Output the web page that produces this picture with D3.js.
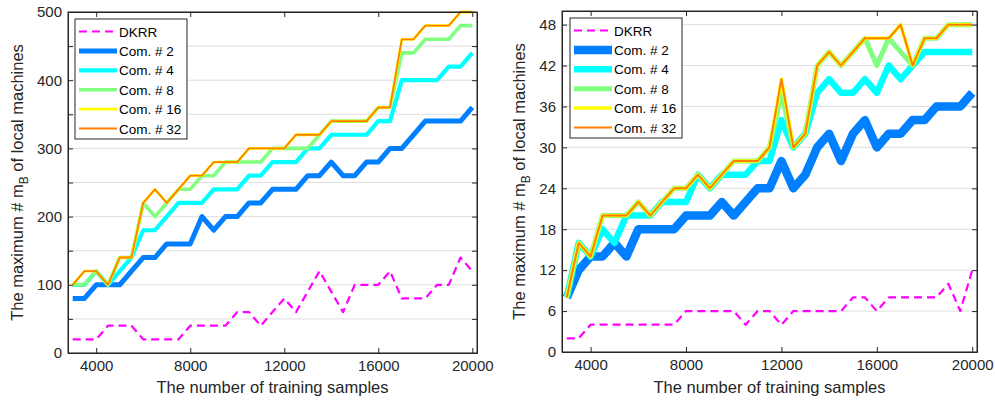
<!DOCTYPE html>
<html>
<head>
<meta charset="utf-8">
<script src="https://cdn.jsdelivr.net/npm/d3@7"></script>
<style>
  body { margin: 0; background: #fff; }
  svg { display: block; font-family: "Liberation Sans", Arial, sans-serif; }
</style>
</head>
<body>
<div id="chart"></div>
<script>
// training sample counts (x categories)
const samples = [3000, 3500, 4000, 4500, 5000, 5500, 6000, 6500, 7000, 7500,
  8000, 8500, 9000, 9500, 10000, 10500, 11000, 11500, 12000, 12500,
  13000, 13500, 14000, 14500, 15000, 15500, 16000, 16500, 17000, 17500,
  18000, 18500, 19000, 19500, 20000];

const seriesNames = ['DKRR', 'Com. # 2', 'Com. # 4', 'Com. # 8', 'Com. # 16', 'Com. # 32'];
const seriesColors = ['#ff00ff', '#0080ff', '#00ffff', '#80ff80', '#ffff00', '#ff8000'];

// left panel
const dkrrA = [20, 20, 20, 40, 40, 40, 20, 20, 20, 20, 40, 40, 40, 40, 60, 60, 40, 60, 80, 60,
  90, 120, 90, 60, 100, 100, 100, 120, 80, 80, 80, 100, 100, 140, 120];
const com2A = [80, 80, 100, 100, 100, 120, 140, 140, 160, 160, 160, 200, 180, 200, 200, 220, 220, 240, 240, 240,
  260, 260, 280, 260, 260, 280, 280, 300, 300, 320, 340, 340, 340, 340, 360];
const com4A = [100, 100, 120, 100, 120, 140, 180, 180, 200, 220, 220, 220, 240, 240, 240, 260, 260, 280, 280, 280,
  300, 300, 320, 320, 320, 320, 340, 340, 400, 400, 400, 400, 420, 420, 440];
const com8A = [100, 100, 120, 100, 140, 140, 220, 200, 220, 240, 240, 260, 260, 280, 280, 280, 280, 300, 300, 300,
  300, 320, 340, 340, 340, 340, 360, 360, 440, 440, 460, 460, 460, 480, 480];
const com16A = [100, 120, 120, 100, 140, 140, 220, 240, 220, 240, 260, 260, 280, 280, 280, 300, 300, 300, 300, 320,
  320, 320, 340, 340, 340, 340, 360, 360, 460, 460, 480, 480, 480, 500, 500];
const com32A = [100, 120, 120, 100, 140, 140, 220, 240, 220, 240, 260, 260, 280, 280, 280, 300, 300, 300, 300, 320,
  320, 320, 340, 340, 340, 340, 360, 360, 460, 460, 480, 480, 480, 500, 500];

// right panel
const dkrrB = [2, 2, 4, 4, 4, 4, 4, 4, 4, 4, 6, 6, 6, 6, 6, 4, 6, 6, 4, 6,
  6, 6, 6, 6, 8, 8, 6, 8, 8, 8, 8, 8, 10, 6, 12];
const com2B = [8, 12, 14, 14, 16, 14, 18, 18, 18, 18, 20, 20, 20, 22, 20, 22, 24, 24, 28, 24,
  26, 30, 32, 28, 32, 34, 30, 32, 32, 34, 34, 36, 36, 36, 38];
const com4B = [8, 16, 14, 18, 16, 20, 20, 20, 22, 22, 22, 26, 24, 26, 26, 26, 28, 28, 34, 30,
  32, 38, 40, 38, 38, 40, 38, 42, 40, 42, 44, 44, 44, 44, 44];
const com8B = [8, 16, 14, 20, 20, 20, 22, 20, 22, 24, 24, 26, 24, 26, 28, 28, 28, 30, 38, 30,
  32, 42, 44, 42, 44, 46, 42, 46, 44, 42, 46, 46, 48, 48, 48];
const com16B = [8, 16, 14, 20, 20, 20, 22, 20, 22, 24, 24, 26, 24, 26, 28, 28, 28, 30, 40, 30,
  32, 42, 44, 42, 44, 46, 46, 46, 48, 42, 46, 46, 48, 48, 48];
const com32B = [8, 16, 14, 20, 20, 20, 22, 20, 22, 24, 24, 26, 24, 26, 28, 28, 28, 30, 40, 30,
  32, 42, 44, 42, 44, 46, 46, 46, 48, 42, 46, 46, 48, 48, 48];

const xTicks = [4000, 8000, 12000, 16000, 20000];
const yTicksA = [0, 50, 100, 150, 200, 250, 300, 350, 400, 450, 500];
const yLabelsA = [0, 100, 200, 300, 400, 500];
const yTicksB = [0, 6, 12, 18, 24, 30, 36, 42, 48];

const axisColor = '#262626';
const gridColor = '#dfdfdf';

const svg = d3.select('#chart').append('svg')
  .attr('width', 995)
  .attr('height', 402);

function drawPanel(opt) {
  const { left, right, top, bottom, yMax, yTicks, yLabels, series, widths, legendX, labelX } = opt;

  const x = d3.scaleLinear().domain([2800, 20200]).range([left, right]);
  const y = d3.scaleLinear().domain([0, yMax]).range([bottom, top]);

  const g = svg.append('g');

  // horizontal grid
  g.append('g').selectAll('line')
    .data(yTicks)
    .join('line')
    .attr('x1', left).attr('x2', right)
    .attr('y1', d => y(d)).attr('y2', d => y(d))
    .attr('stroke', gridColor)
    .attr('stroke-width', 1);

  // lines
  const line = d3.line()
    .x((d, i) => x(samples[i]))
    .y(d => y(d));

  series.forEach((vals, k) => {
    g.append('path')
      .datum(vals)
      .attr('fill', 'none')
      .attr('stroke', seriesColors[k])
      .attr('stroke-width', widths[k])
      .attr('stroke-linejoin', 'round')
      .attr('stroke-dasharray', k === 0 ? '8,5' : null)
      .attr('d', line);
  });

  // axes
  const fmt = d3.format('d');
  const xAxis = g.append('g')
    .attr('transform', `translate(0,${bottom})`)
    .call(d3.axisBottom(x).tickValues(xTicks).tickFormat(fmt).tickSizeInner(-5).tickSizeOuter(0).tickPadding(7));
  const xTop = g.append('g')
    .attr('transform', `translate(0,${top})`)
    .call(d3.axisTop(x).tickValues(xTicks).tickFormat('').tickSizeInner(-5).tickSizeOuter(0));
  const yAxis = g.append('g')
    .attr('transform', `translate(${left},0)`)
    .call(d3.axisLeft(y).tickValues(yTicks)
      .tickFormat(d => yLabels.includes(d) ? fmt(d) : '')
      .tickSizeInner(-5).tickSizeOuter(0).tickPadding(6));
  const yRight = g.append('g')
    .attr('transform', `translate(${right},0)`)
    .call(d3.axisRight(y).tickValues(yTicks).tickFormat('').tickSizeInner(-5).tickSizeOuter(0));

  [xAxis, xTop, yAxis, yRight].forEach(a => {
    a.select('.domain').attr('stroke', axisColor).attr('stroke-width', 1);
    a.selectAll('.tick line').attr('stroke', axisColor);
    a.selectAll('.tick text')
      .attr('fill', axisColor)
      .style('font-size', '15px')
      .style('font-family', '"Liberation Sans", Arial, sans-serif');
  });

  // box outline
  g.append('rect')
    .attr('x', left).attr('y', top)
    .attr('width', right - left).attr('height', bottom - top)
    .attr('fill', 'none')
    .attr('stroke', axisColor)
    .attr('stroke-width', 1);

  // axis titles
  g.append('text')
    .attr('x', (left + right) / 2)
    .attr('y', 393)
    .attr('text-anchor', 'middle')
    .attr('fill', axisColor)
    .style('font-size', '16.5px')
    .text('The number of training samples');

  const yl = g.append('text')
    .attr('transform', `translate(${labelX},${(top + bottom) / 2}) rotate(-90)`)
    .attr('text-anchor', 'middle')
    .attr('fill', axisColor)
    .style('font-size', '16.5px');
  yl.append('tspan').text('The maximum # m');
  yl.append('tspan').attr('dy', 5).style('font-size', '12px').text('B');
  yl.append('tspan').attr('dy', -5).text(' of local machines');

  // legend
  const lg = g.append('g').attr('transform', `translate(${legendX},${top + 7})`);
  lg.append('rect')
    .attr('x', 0).attr('y', 0)
    .attr('width', 112).attr('height', 120)
    .attr('fill', '#fff')
    .attr('stroke', axisColor)
    .attr('stroke-width', 1);
  seriesNames.forEach((name, k) => {
    const yy = 12.5 + k * 19.4;
    lg.append('line')
      .attr('x1', 4).attr('x2', 42)
      .attr('y1', yy).attr('y2', yy)
      .attr('stroke', seriesColors[k])
      .attr('stroke-width', widths[k])
      .attr('stroke-dasharray', k === 0 ? '8,5' : null);
    lg.append('text')
      .attr('x', 44).attr('y', yy + 5)
      .attr('fill', '#000')
      .style('font-size', '13.5px')
      .text(name);
  });
}

drawPanel({
  left: 68, right: 477, top: 12, bottom: 353,
  yMax: 500, yTicks: yTicksA, yLabels: yLabelsA,
  series: [dkrrA, com2A, com4A, com8A, com16A, com32A],
  widths: [2.2, 5, 4.2, 3.6, 2.8, 1.8],
  legendX: 75, labelX: 23
});

drawPanel({
  left: 562, right: 977, top: 11, bottom: 352,
  yMax: 50, yTicks: yTicksB, yLabels: yTicksB,
  series: [dkrrB, com2B, com4B, com8B, com16B, com32B],
  widths: [2.2, 8.5, 6.5, 5, 3.5, 2],
  legendX: 570, labelX: 525
});
</script>
</body>
</html>
